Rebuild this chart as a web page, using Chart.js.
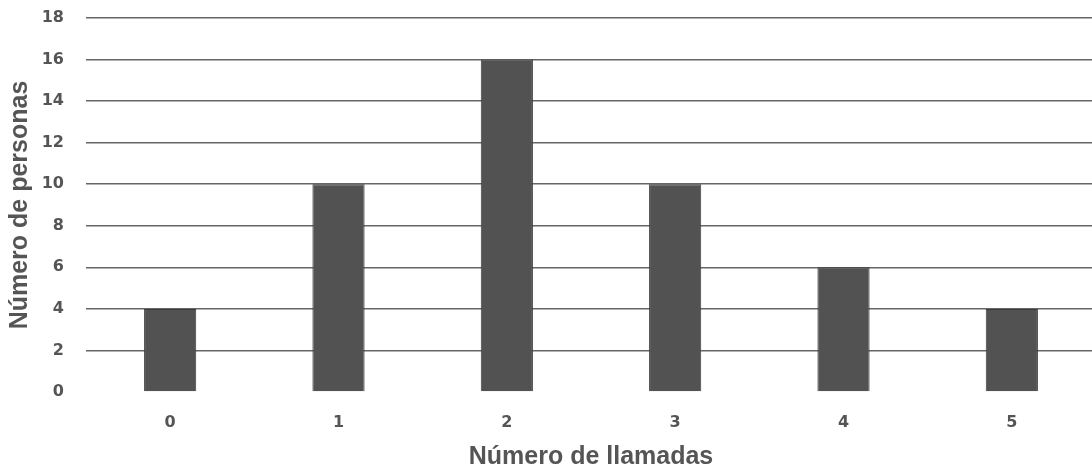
<!DOCTYPE html>
<html lang="es">
<head>
<meta charset="utf-8">
<title>Número de llamadas</title>
<script src="https://cdn.jsdelivr.net/npm/chart.js@4.4.1/dist/chart.umd.min.js"></script>
<style>
  html, body { margin: 0; padding: 0; background: #ffffff; overflow: hidden; }
  #wrap { position: relative; width: 1096px; height: 472px; }
</style>
</head>
<body>
<div id="wrap"><canvas id="chart"></canvas></div>
<script>
// Frecuencia de personas según el número de llamadas
const llamadas = ['0', '1', '2', '3', '4', '5'];
const personas = [4, 10, 16, 10, 6, 4];
const yMax = 18;
const yStep = 2;

const textColor = '#555555';
const gridColor = '#666666';
const tickFont = '"DejaVu Sans", Verdana, sans-serif';
const titleFont = '"Liberation Sans", Arial, sans-serif';

new Chart(document.getElementById('chart'), {
  type: 'bar',
  data: {
    labels: llamadas,
    datasets: [{
      label: 'Número de personas',
      data: personas,
      backgroundColor: '#525252',
      borderColor: '#3c3c3c',
      borderWidth: 1,
      barPercentage: 0.31,
      categoryPercentage: 1.0
    }]
  },
  options: {
    responsive: true,
    maintainAspectRatio: false,
    animation: false,
    layout: { padding: { top: 18, right: 0, bottom: 0, left: 0 } },
    plugins: {
      legend: { display: false },
      tooltip: { enabled: false }
    },
    scales: {
      x: {
        grid: { display: false, drawTicks: false },
        border: { display: false },
        ticks: {
          color: textColor,
          padding: 21,
          font: { family: tickFont, size: 16, weight: 'bold' }
        },
        title: {
          display: true,
          text: 'Número de llamadas',
          color: textColor,
          padding: { top: 0, bottom: 0 },
          font: { family: titleFont, size: 25, weight: 'bold' }
        },
        afterFit(scale) { scale.height = 80; }
      },
      y: {
        min: 0,
        max: yMax,
        grid: {
          drawTicks: false,
          lineWidth: 1.6,
          color: (ctx) => (ctx.tick && ctx.tick.value === 0 ? 'rgba(0,0,0,0)' : gridColor)
        },
        border: { display: false },
        ticks: {
          stepSize: yStep,
          color: textColor,
          padding: 22,
          font: { family: tickFont, size: 16, weight: 'bold' }
        },
        title: {
          display: true,
          text: 'Número de personas',
          color: textColor,
          padding: { top: 5, bottom: 0 },
          font: { family: titleFont, size: 25, weight: 'bold' }
        },
        afterFit(scale) {
          scale.width = 86;
          scale.paddingTop = 0;
          scale.paddingBottom = 0;
        }
      }
    }
  }
});
</script>
</body>
</html>
